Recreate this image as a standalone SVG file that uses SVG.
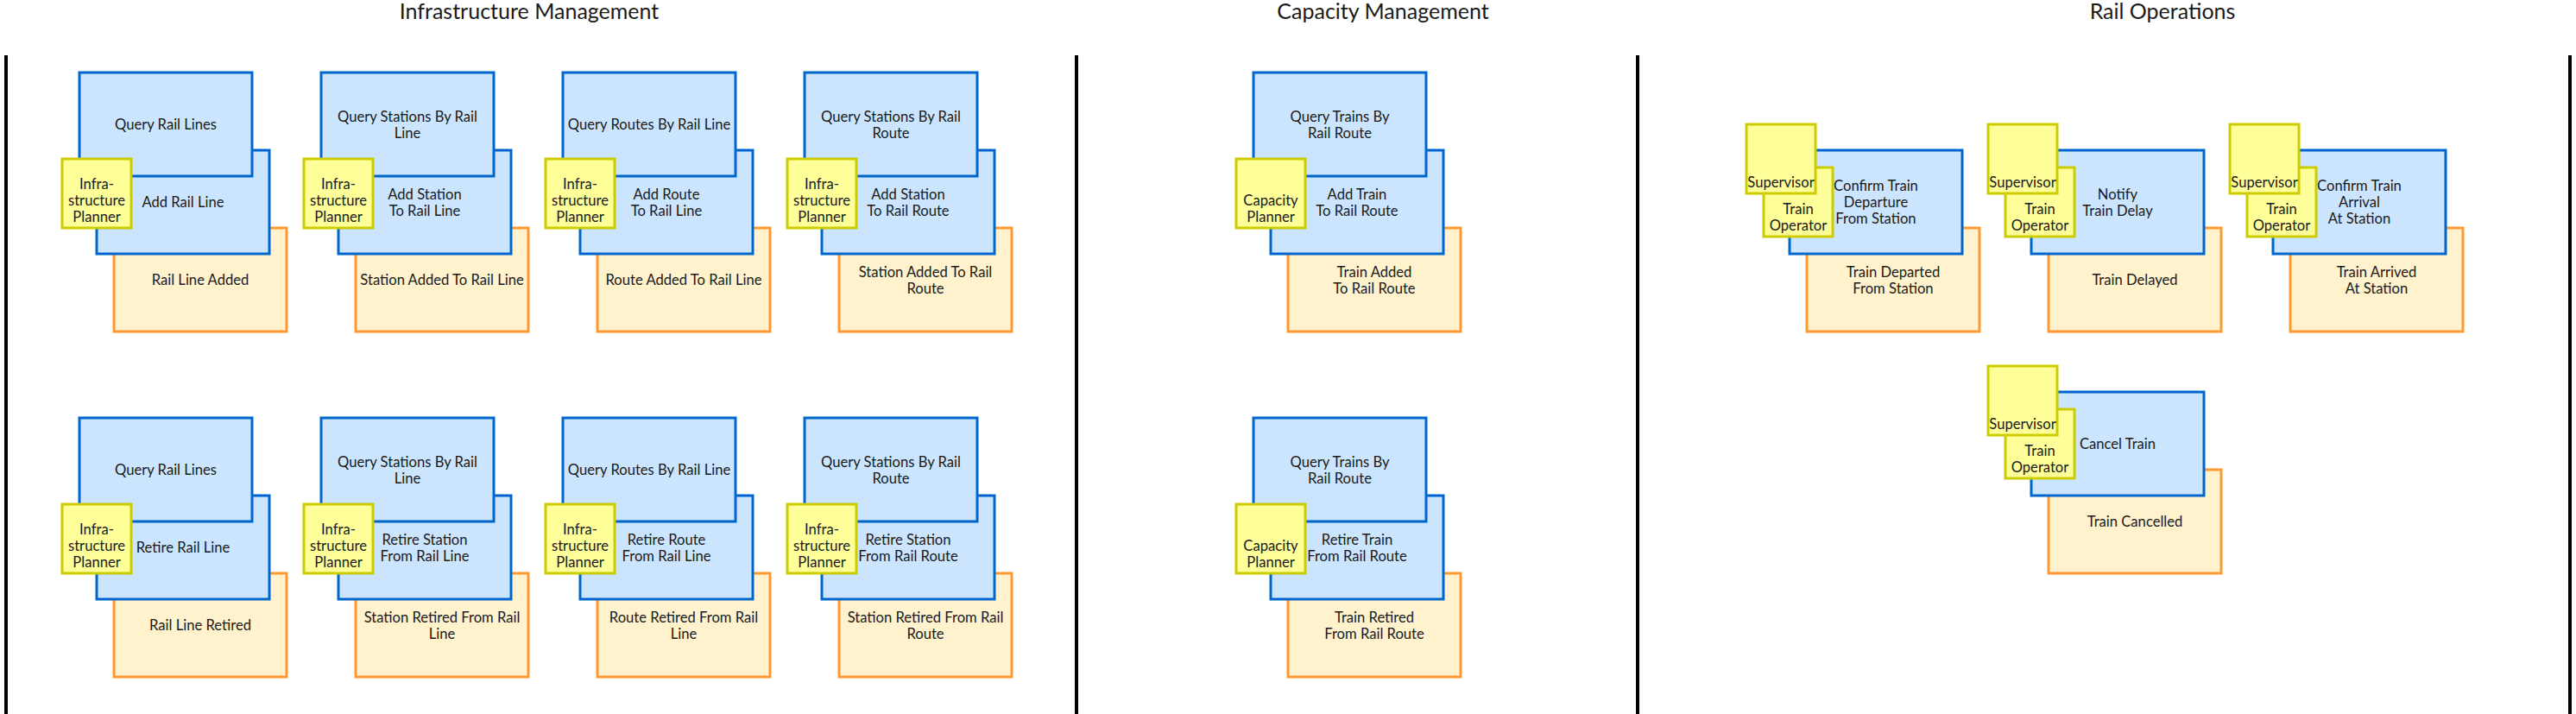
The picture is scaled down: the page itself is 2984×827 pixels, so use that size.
<svg xmlns="http://www.w3.org/2000/svg" width="2984" height="827" viewBox="0 0 2984 827">
<style>
text{font-family:"Lato","Open Sans","Liberation Sans",sans-serif;fill:#1a1a1a;}
.t{font-size:16.6px;text-anchor:middle;dominant-baseline:central;}
.title{font-size:25px;text-anchor:middle;}
.q,.c{fill:#cce5ff;stroke:#0066cc;stroke-width:3;}
.e{fill:#fff2cc;stroke:#ff9933;stroke-width:3;}
.a{fill:#ffff99;stroke:#cccc00;stroke-width:3;}
.sep{stroke:#000;stroke-width:4;}
</style>
<g id="titles">
<text class="title" x="613" y="22">Infrastructure Management</text>
<text class="title" x="1602" y="22">Capacity Management</text>
<text class="title" x="2505" y="22">Rail Operations</text>
</g>
<g id="connectors">
<line class="sep" x1="7" y1="64" x2="7" y2="827"/>
<line class="sep" x1="1247" y1="64" x2="1247" y2="827"/>
<line class="sep" x1="1897" y1="64" x2="1897" y2="827"/>
<line class="sep" x1="2977" y1="64" x2="2977" y2="827"/>
</g>

<!-- Infrastructure row 1 -->
<g id="ev-rail-line-added"><rect class="e" x="132" y="264" width="200" height="120"/><text class="t" x="232" y="324">Rail Line Added</text></g>
<g id="cmd-add-rail-line"><rect class="c" x="112" y="174" width="200" height="120"/><text class="t" x="212" y="234">Add Rail Line</text></g>
<g id="q-rail-lines-1"><rect class="q" x="92" y="84" width="200" height="120"/><text class="t" x="192" y="144">Query Rail Lines</text></g>
<g id="actor-ip-1"><rect class="a" x="72" y="184" width="80" height="80"/><text class="t" x="112" y="213">Infra-</text><text class="t" x="112" y="232">structure</text><text class="t" x="112" y="251">Planner</text></g>

<g id="ev-station-added-line"><rect class="e" x="412" y="264" width="200" height="120"/><text class="t" x="512" y="324">Station Added To Rail Line</text></g>
<g id="cmd-add-station-line"><rect class="c" x="392" y="174" width="200" height="120"/><text class="t" x="492" y="224.5">Add Station</text><text class="t" x="492" y="243.5">To Rail Line</text></g>
<g id="q-stations-line-1"><rect class="q" x="372" y="84" width="200" height="120"/><text class="t" x="472" y="134.5">Query Stations By Rail</text><text class="t" x="472" y="153.5">Line</text></g>
<g id="actor-ip-2"><rect class="a" x="352" y="184" width="80" height="80"/><text class="t" x="392" y="213">Infra-</text><text class="t" x="392" y="232">structure</text><text class="t" x="392" y="251">Planner</text></g>

<g id="ev-route-added-line"><rect class="e" x="692" y="264" width="200" height="120"/><text class="t" x="792" y="324">Route Added To Rail Line</text></g>
<g id="cmd-add-route-line"><rect class="c" x="672" y="174" width="200" height="120"/><text class="t" x="772" y="224.5">Add Route</text><text class="t" x="772" y="243.5">To Rail Line</text></g>
<g id="q-routes-line-1"><rect class="q" x="652" y="84" width="200" height="120"/><text class="t" x="752" y="144">Query Routes By Rail Line</text></g>
<g id="actor-ip-3"><rect class="a" x="632" y="184" width="80" height="80"/><text class="t" x="672" y="213">Infra-</text><text class="t" x="672" y="232">structure</text><text class="t" x="672" y="251">Planner</text></g>

<g id="ev-station-added-route"><rect class="e" x="972" y="264" width="200" height="120"/><text class="t" x="1072" y="314.5">Station Added To Rail</text><text class="t" x="1072" y="333.5">Route</text></g>
<g id="cmd-add-station-route"><rect class="c" x="952" y="174" width="200" height="120"/><text class="t" x="1052" y="224.5">Add Station</text><text class="t" x="1052" y="243.5">To Rail Route</text></g>
<g id="q-stations-route-1"><rect class="q" x="932" y="84" width="200" height="120"/><text class="t" x="1032" y="134.5">Query Stations By Rail</text><text class="t" x="1032" y="153.5">Route</text></g>
<g id="actor-ip-4"><rect class="a" x="912" y="184" width="80" height="80"/><text class="t" x="952" y="213">Infra-</text><text class="t" x="952" y="232">structure</text><text class="t" x="952" y="251">Planner</text></g>

<!-- Infrastructure row 2 -->
<g id="ev-rail-line-retired"><rect class="e" x="132" y="664" width="200" height="120"/><text class="t" x="232" y="724">Rail Line Retired</text></g>
<g id="cmd-retire-rail-line"><rect class="c" x="112" y="574" width="200" height="120"/><text class="t" x="212" y="634">Retire Rail Line</text></g>
<g id="q-rail-lines-2"><rect class="q" x="92" y="484" width="200" height="120"/><text class="t" x="192" y="544">Query Rail Lines</text></g>
<g id="actor-ip-5"><rect class="a" x="72" y="584" width="80" height="80"/><text class="t" x="112" y="613">Infra-</text><text class="t" x="112" y="632">structure</text><text class="t" x="112" y="651">Planner</text></g>

<g id="ev-station-retired-line"><rect class="e" x="412" y="664" width="200" height="120"/><text class="t" x="512" y="714.5">Station Retired From Rail</text><text class="t" x="512" y="733.5">Line</text></g>
<g id="cmd-retire-station-line"><rect class="c" x="392" y="574" width="200" height="120"/><text class="t" x="492" y="624.5">Retire Station</text><text class="t" x="492" y="643.5">From Rail Line</text></g>
<g id="q-stations-line-2"><rect class="q" x="372" y="484" width="200" height="120"/><text class="t" x="472" y="534.5">Query Stations By Rail</text><text class="t" x="472" y="553.5">Line</text></g>
<g id="actor-ip-6"><rect class="a" x="352" y="584" width="80" height="80"/><text class="t" x="392" y="613">Infra-</text><text class="t" x="392" y="632">structure</text><text class="t" x="392" y="651">Planner</text></g>

<g id="ev-route-retired-line"><rect class="e" x="692" y="664" width="200" height="120"/><text class="t" x="792" y="714.5">Route Retired From Rail</text><text class="t" x="792" y="733.5">Line</text></g>
<g id="cmd-retire-route-line"><rect class="c" x="672" y="574" width="200" height="120"/><text class="t" x="772" y="624.5">Retire Route</text><text class="t" x="772" y="643.5">From Rail Line</text></g>
<g id="q-routes-line-2"><rect class="q" x="652" y="484" width="200" height="120"/><text class="t" x="752" y="544">Query Routes By Rail Line</text></g>
<g id="actor-ip-7"><rect class="a" x="632" y="584" width="80" height="80"/><text class="t" x="672" y="613">Infra-</text><text class="t" x="672" y="632">structure</text><text class="t" x="672" y="651">Planner</text></g>

<g id="ev-station-retired-route"><rect class="e" x="972" y="664" width="200" height="120"/><text class="t" x="1072" y="714.5">Station Retired From Rail</text><text class="t" x="1072" y="733.5">Route</text></g>
<g id="cmd-retire-station-route"><rect class="c" x="952" y="574" width="200" height="120"/><text class="t" x="1052" y="624.5">Retire Station</text><text class="t" x="1052" y="643.5">From Rail Route</text></g>
<g id="q-stations-route-2"><rect class="q" x="932" y="484" width="200" height="120"/><text class="t" x="1032" y="534.5">Query Stations By Rail</text><text class="t" x="1032" y="553.5">Route</text></g>
<g id="actor-ip-8"><rect class="a" x="912" y="584" width="80" height="80"/><text class="t" x="952" y="613">Infra-</text><text class="t" x="952" y="632">structure</text><text class="t" x="952" y="651">Planner</text></g>

<!-- Capacity -->
<g id="ev-train-added"><rect class="e" x="1492" y="264" width="200" height="120"/><text class="t" x="1592" y="314.5">Train Added</text><text class="t" x="1592" y="333.5">To Rail Route</text></g>
<g id="cmd-add-train"><rect class="c" x="1472" y="174" width="200" height="120"/><text class="t" x="1572" y="224.5">Add Train</text><text class="t" x="1572" y="243.5">To Rail Route</text></g>
<g id="q-trains-1"><rect class="q" x="1452" y="84" width="200" height="120"/><text class="t" x="1552" y="134.5">Query Trains By</text><text class="t" x="1552" y="153.5">Rail Route</text></g>
<g id="actor-cp-1"><rect class="a" x="1432" y="184" width="80" height="80"/><text class="t" x="1472" y="232">Capacity</text><text class="t" x="1472" y="251">Planner</text></g>

<g id="ev-train-retired"><rect class="e" x="1492" y="664" width="200" height="120"/><text class="t" x="1592" y="714.5">Train Retired</text><text class="t" x="1592" y="733.5">From Rail Route</text></g>
<g id="cmd-retire-train"><rect class="c" x="1472" y="574" width="200" height="120"/><text class="t" x="1572" y="624.5">Retire Train</text><text class="t" x="1572" y="643.5">From Rail Route</text></g>
<g id="q-trains-2"><rect class="q" x="1452" y="484" width="200" height="120"/><text class="t" x="1552" y="534.5">Query Trains By</text><text class="t" x="1552" y="553.5">Rail Route</text></g>
<g id="actor-cp-2"><rect class="a" x="1432" y="584" width="80" height="80"/><text class="t" x="1472" y="632">Capacity</text><text class="t" x="1472" y="651">Planner</text></g>

<!-- Rail Operations -->
<g id="ev-train-departed"><rect class="e" x="2093" y="264" width="200" height="120"/><text class="t" x="2193" y="314.5">Train Departed</text><text class="t" x="2193" y="333.5">From Station</text></g>
<g id="cmd-confirm-departure"><rect class="c" x="2073" y="174" width="200" height="120"/><text class="t" x="2173" y="215">Confirm Train</text><text class="t" x="2173" y="234">Departure</text><text class="t" x="2173" y="253">From Station</text></g>
<g id="actor-to-1"><rect class="a" x="2043" y="194" width="80" height="80"/><text class="t" x="2083" y="242">Train</text><text class="t" x="2083" y="261">Operator</text></g>
<g id="actor-sup-1"><rect class="a" x="2023" y="144" width="80" height="80"/><text class="t" x="2063" y="211">Supervisor</text></g>

<g id="ev-train-delayed"><rect class="e" x="2373" y="264" width="200" height="120"/><text class="t" x="2473" y="324">Train Delayed</text></g>
<g id="cmd-notify-delay"><rect class="c" x="2353" y="174" width="200" height="120"/><text class="t" x="2453" y="224.5">Notify</text><text class="t" x="2453" y="243.5">Train Delay</text></g>
<g id="actor-to-2"><rect class="a" x="2323" y="194" width="80" height="80"/><text class="t" x="2363" y="242">Train</text><text class="t" x="2363" y="261">Operator</text></g>
<g id="actor-sup-2"><rect class="a" x="2303" y="144" width="80" height="80"/><text class="t" x="2343" y="211">Supervisor</text></g>

<g id="ev-train-arrived"><rect class="e" x="2653" y="264" width="200" height="120"/><text class="t" x="2753" y="314.5">Train Arrived</text><text class="t" x="2753" y="333.5">At Station</text></g>
<g id="cmd-confirm-arrival"><rect class="c" x="2633" y="174" width="200" height="120"/><text class="t" x="2733" y="215">Confirm Train</text><text class="t" x="2733" y="234">Arrival</text><text class="t" x="2733" y="253">At Station</text></g>
<g id="actor-to-3"><rect class="a" x="2603" y="194" width="80" height="80"/><text class="t" x="2643" y="242">Train</text><text class="t" x="2643" y="261">Operator</text></g>
<g id="actor-sup-3"><rect class="a" x="2583" y="144" width="80" height="80"/><text class="t" x="2623" y="211">Supervisor</text></g>

<g id="ev-train-cancelled"><rect class="e" x="2373" y="544" width="200" height="120"/><text class="t" x="2473" y="604">Train Cancelled</text></g>
<g id="cmd-cancel-train"><rect class="c" x="2353" y="454" width="200" height="120"/><text class="t" x="2453" y="514">Cancel Train</text></g>
<g id="actor-to-4"><rect class="a" x="2323" y="474" width="80" height="80"/><text class="t" x="2363" y="522">Train</text><text class="t" x="2363" y="541">Operator</text></g>
<g id="actor-sup-4"><rect class="a" x="2303" y="424" width="80" height="80"/><text class="t" x="2343" y="491">Supervisor</text></g>
</svg>
